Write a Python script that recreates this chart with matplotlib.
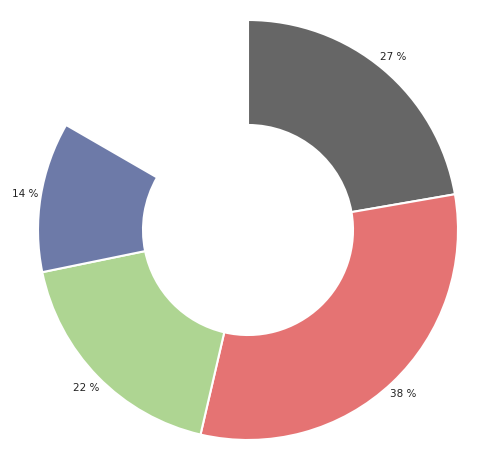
import matplotlib
matplotlib.use("Agg")
import matplotlib.pyplot as plt

labels = ["A", "B", "C", "D"]
values = [27, 38, 22, 14]
colors = ["#666666", "#e57373", "#aed592", "#6d7aa8"]
span_deg = 300

fig = plt.figure(figsize=(4.8, 4.53), dpi=100)
ax = fig.add_axes([(248-215)/480, (453-230-215)/453, 430/480, 430/453])
total = sum(values)
gap = total * (360 - span_deg) / span_deg
wedges, _ = ax.pie(values + [gap], colors=colors + ["none"], startangle=90, counterclock=False,
                   radius=210/215, wedgeprops=dict(width=105/215, edgecolor="white", linewidth=1.5))
wedges[-1].set_edgecolor("none")
import numpy as np
for w, v in zip(wedges[:-1], values):
    ang = np.deg2rad((w.theta1 + w.theta2) / 2)
    r = 1.05
    ax.text(r*np.cos(ang), r*np.sin(ang), f"{v} %", ha="center", va="center", fontsize=7.5, color="#222222")
ax.set_xlim(-1, 1); ax.set_ylim(-1, 1)
ax.set_aspect("auto")
ax.axis("off")
fig.savefig("out.png", dpi=100)
